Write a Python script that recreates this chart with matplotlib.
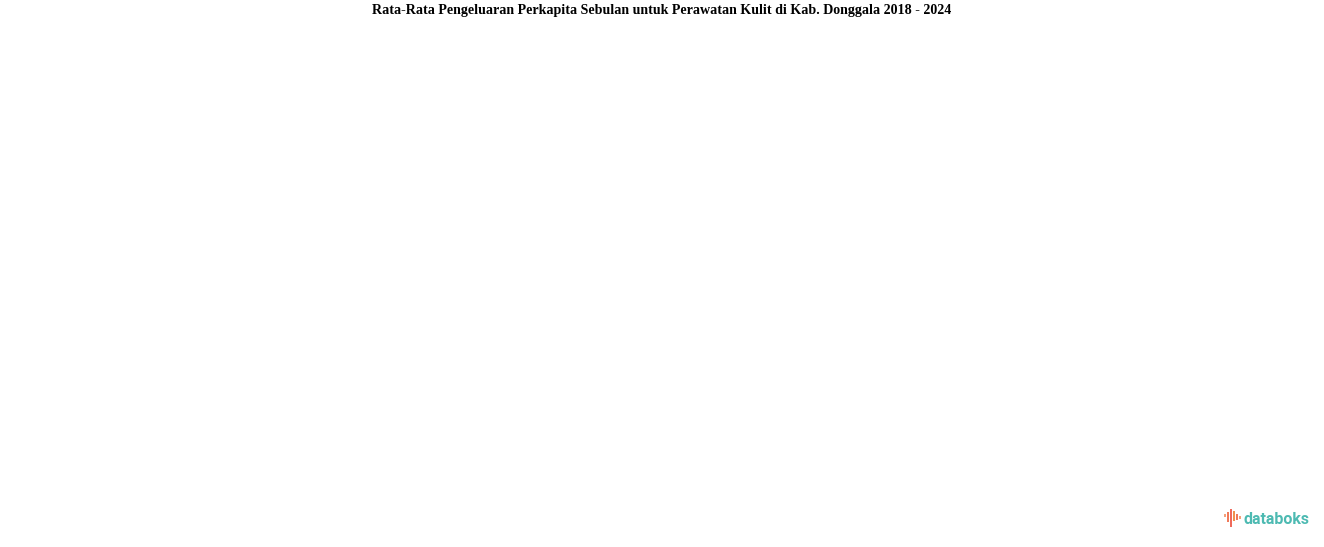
import matplotlib.pyplot as plt
from matplotlib.patches import Rectangle

title = 'Rata-Rata Pengeluaran Perkapita Sebulan untuk Perawatan Kulit di Kab. Donggala 2018 - 2024'
# the source chart shows no data at all, only the title and logo
years = []
values = []

fig = plt.figure(figsize=(13.24, 5.47), dpi=100)
W, H = 1324, 547

ax = fig.add_axes([0, 0, 1, 1])
ax.set_xlim(0, W)
ax.set_ylim(H, 0)
ax.axis('off')

if years:
    ax.plot(years, values)

fig.text(0.5, 1 - 10.5 / H, title, ha='center', va='center',
         fontsize=10.05, fontweight='bold', family='Liberation Serif', color='black')

# databoks logo
bars = [(1224, 514, 3, '#f4a07a'), (1227, 512, 10, '#f07a5a'), (1230, 509, 18, '#ef6a5c'),
        (1233, 511, 10, '#f0924e'), (1236, 514, 6, '#f07a5a'), (1239, 516, 3, '#f4a07a')]
for x, y, h, c in bars:
    ax.add_patch(Rectangle((x, y), 2.4, h, color=c, lw=0))
ax.text(1243, 519, 'databoks', ha='left', va='center', fontsize=11.5,
        fontweight='bold', family='Roboto', color='#4dbab2')

fig.savefig('out.png', dpi=100)
